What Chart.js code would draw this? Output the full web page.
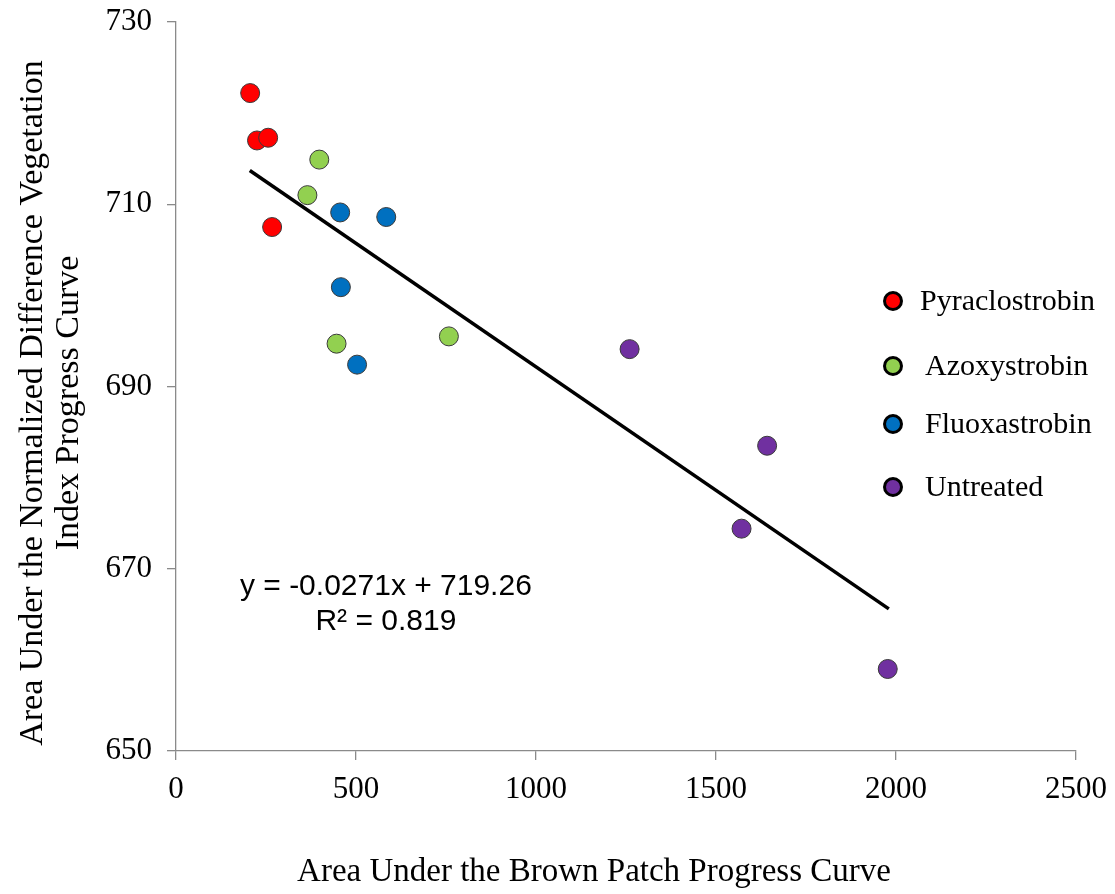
<!DOCTYPE html>
<html>
<head>
<meta charset="utf-8">
<script src="https://cdn.jsdelivr.net/npm/chart.js@4.4.1/dist/chart.umd.min.js"></script>
<style>
  html, body { margin: 0; padding: 0; background: #fff; }
  #wrap { width: 1115px; height: 894px; }
</style>
</head>
<body>
<div id="wrap"><canvas id="chart"></canvas></div>
<script>
// series
const seriesNames = ["Pyraclostrobin", "Azoxystrobin", "Fluoxastrobin", "Untreated"];
const seriesColors = ["#ff0000", "#92d050", "#0070c0", "#7030a0"];

const pyraX = [206, 225, 256, 267];
const pyraY = [722.2, 717.0, 717.3, 707.5];

const azoxX = [398, 365, 446, 758];
const azoxY = [714.9, 711.0, 694.7, 695.5];

const fluoX = [456, 584, 458, 503];
const fluoY = [709.1, 708.6, 700.9, 692.4];

const untrX = [1260, 1642, 1571, 1977];
const untrY = [694.1, 683.5, 674.4, 659.0];

// linear trendline end points
const trendX = [205, 1980];
const trendY = [713.7, 665.6];

const xTicks = [0, 500, 1000, 1500, 2000, 2500];
const yTicks = [650, 670, 690, 710, 730];

const xTitle = "Area Under the Brown Patch Progress Curve";
const yTitle = ["Area Under the Normalized Difference Vegetation", "Index Progress Curve"];
const equation = ["y = -0.0271x + 719.26", "R\u00b2 = 0.819"];
const eqAnchor = [583, 668];

const serif = "'Times New Roman', 'Liberation Serif', serif";
const axisGray = "#8a8a8a";

const toPoints = (xs, ys) => xs.map((x, i) => ({ x, y: ys[i] }));
const seriesData = [
  toPoints(pyraX, pyraY),
  toPoints(azoxX, azoxY),
  toPoints(fluoX, fluoY),
  toPoints(untrX, untrY),
];

const datasets = seriesNames.map((name, i) => ({
  type: "scatter",
  label: name,
  data: seriesData[i],
  backgroundColor: seriesColors[i],
  borderColor: "#3a3a3a",
  borderWidth: 1,
  pointRadius: 9.5,
  order: 1,
}));

datasets.push({
  type: "line",
  label: "trend",
  data: toPoints(trendX, trendY),
  borderColor: "#000",
  borderWidth: 3.5,
  pointRadius: 0,
  fill: false,
  order: 0,
});

// axis titles, legend and trendline equation
const extras = {
  id: "extras",
  afterDraw(chart) {
    const { ctx, chartArea, scales } = chart;
    ctx.save();
    ctx.fillStyle = "#000";
    ctx.textBaseline = "middle";
    ctx.textAlign = "center";

    ctx.font = "33px " + serif;
    ctx.fillText(xTitle, 594, 872);

    ctx.save();
    ctx.font = "34px " + serif;
    ctx.translate(0, 403);
    ctx.rotate(-Math.PI / 2);
    yTitle.forEach((line, i) => ctx.fillText(line, 0, 33 + i * 36));
    ctx.restore();

    // legend
    const lx = chartArea.right - 183;
    const rows = [301, 366, 424, 487];
    ctx.font = "30px " + serif;
    ctx.textAlign = "left";
    seriesNames.forEach((name, i) => {
      ctx.beginPath();
      ctx.arc(lx, rows[i], 8.5, 0, Math.PI * 2);
      ctx.fillStyle = seriesColors[i];
      ctx.fill();
      ctx.lineWidth = 3;
      ctx.strokeStyle = "#000";
      ctx.stroke();
      ctx.fillStyle = "#000";
      ctx.fillText(name, lx + (i === 0 ? 27 : 32), rows[i] + 1);
    });

    // equation
    const ex = scales.x.getPixelForValue(eqAnchor[0]);
    const ey = scales.y.getPixelForValue(eqAnchor[1]);
    ctx.font = "30px 'Liberation Sans', Arial, sans-serif";
    ctx.textAlign = "center";
    ctx.fillText(equation[0], ex, ey);
    ctx.fillText(equation[1], ex, ey + 35);
    ctx.restore();
  },
};

new Chart(document.getElementById("chart"), {
  data: { datasets },
  plugins: [extras],
  options: {
    responsive: true,
    maintainAspectRatio: false,
    animation: false,
    events: [],
    layout: { padding: { top: 22, right: 39, left: 0, bottom: 0 } },
    plugins: {
      legend: { display: false },
      tooltip: { enabled: false },
    },
    scales: {
      x: {
        type: "linear",
        min: 0,
        max: 2500,
        afterBuildTicks: (axis) => { axis.ticks = xTicks.map((v) => ({ value: v })); },
        afterFit: (axis) => {
          axis.height = 143;
          axis.paddingLeft = 0;
          axis.paddingRight = 0;
        },
        grid: { drawOnChartArea: false, tickLength: 9, color: axisGray, lineWidth: 1.3 },
        border: { color: axisGray, width: 1.3 },
        ticks: {
          color: "#000",
          padding: 11,
          font: { family: serif, size: 31 },
          callback: (v) => String(v),
        },
      },
      y: {
        type: "linear",
        min: 650,
        max: 730,
        afterBuildTicks: (axis) => { axis.ticks = yTicks.map((v) => ({ value: v })); },
        afterFit: (axis) => {
          axis.width = 176;
          axis.paddingTop = 0;
          axis.paddingBottom = 0;
        },
        grid: { drawOnChartArea: false, tickLength: 9, color: axisGray, lineWidth: 1.3 },
        border: { color: axisGray, width: 1.3 },
        ticks: {
          color: "#000",
          padding: 15,
          font: { family: serif, size: 31 },
          callback: (v) => String(v),
        },
      },
    },
  },
});
</script>
</body>
</html>
